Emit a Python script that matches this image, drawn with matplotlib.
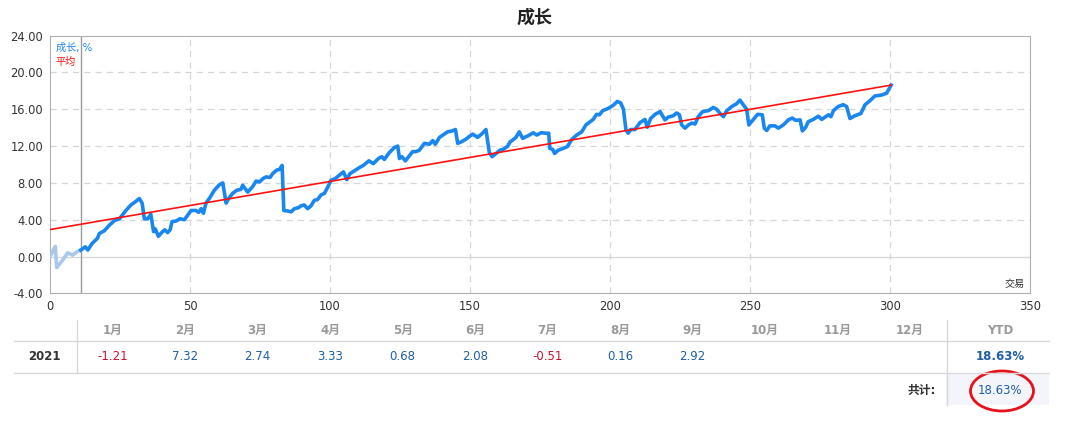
import matplotlib
matplotlib.use('Agg')
import matplotlib.pyplot as plt
from matplotlib.lines import Line2D
from matplotlib.patches import Ellipse, Rectangle

plt.rcParams['font.family'] = ['DejaVu Sans', 'Noto Sans CJK SC']

# данные: номер сделки и рост, %
trade_x = [0, 1.9, 2.4, 4.5, 6.3, 8.1, 9.5, 11,
           12.6, 13.5, 15, 17, 17.6, 19.4, 21.2, 23, 24.8, 27.1, 28.9, 30.7, 31.9, 32.9, 33.7, 34.9, 36, 37,
           37.6, 38.7, 40.2, 41, 42, 42.9, 43.6, 45, 46.4, 48, 49.2, 50.4, 52.1, 53.1, 54, 54.8, 55.7, 56.9,
           58.7, 60.5, 61.7, 62.9, 63.8, 65.2, 66.7, 68.2, 68.8, 70.6, 72.4, 73.6, 74.8, 76, 77.1, 78.6, 79.5,
           81, 81.9, 82.9, 83.5, 84.9, 86.1, 87.3, 88.7, 89.6, 90.8, 92, 93.2, 94.4, 95.6, 96.8, 98, 99.2,
           100.4, 101.8, 103.6, 104.8, 106, 107.1, 108.9, 110.7, 111.9, 113.9, 115.5, 117.3, 118.5, 119.4,
           121.2, 123, 124.2, 124.8, 125.7, 126.9, 128.1, 129.5, 130.7, 131.9, 133.7, 135.5, 136.7, 137.6,
           139.1, 140.8, 142, 143.6, 144.8, 145.6, 146.8, 148.3, 149.8, 151, 152.7, 154.3, 155.7, 156.9,
           157.9, 159.3, 160.7, 161.9, 163.5, 164.3, 165.2, 166.4, 167.6, 168.8, 170.6, 172.6, 173.8, 175.4,
           177.1, 178.1, 178.5, 179.5, 180.2, 181.5, 183.3, 184.8, 186.3, 188.1, 189.9, 191.4, 192.9, 194,
           195.2, 196.2, 197.4, 199.4, 201.2, 202.6, 203.8, 204.8, 205.7, 206.5, 207.4, 208.9, 210.7, 212.5,
           213.3, 214.5, 216.1, 217.9, 219.6, 220.8, 222.6, 223.8, 224.8, 225.6, 226.8, 228, 229.2, 230.4,
           231.5, 233.1, 235.1, 236.9, 238.1, 239.3, 240.5, 241.7, 243.5, 245.2, 246.4, 247.6, 248.8, 249.6,
           251.2, 252.7, 254.4, 255.1, 256, 257.1, 258.9, 260.1, 261.9, 263.7, 265.1, 266.3, 267.9, 268.7,
           269.9, 270.8, 272.6, 274.4, 275.6, 277, 278, 278.9, 279.8, 281.5, 283.3, 284.5, 285.7, 287.5,
           289.6, 291.1, 292.9, 294.6, 297, 298.8, 299.6, 300.4]
growth_y = [0, 1.1, -1.2, -0.4, 0.4, 0.15, 0.5, 0.7,
            1.05, 0.7, 1.4, 2.0, 2.5, 2.8, 3.4, 3.9, 4.1, 5.0, 5.6, 6.0, 6.3, 5.8, 4.1, 4.1, 4.6, 2.7,
            3.0, 2.2, 2.7, 2.9, 2.6, 2.9, 3.8, 3.85, 4.1, 4.0, 4.5, 5.0, 5.0, 4.8, 5.2, 4.7, 5.8, 6.3,
            7.2, 7.8, 8.0, 5.8, 6.3, 6.85, 7.2, 7.3, 7.75, 7.0, 7.6, 8.2, 8.1, 8.45, 8.65, 8.6, 9.0,
            9.4, 9.45, 9.9, 5.0, 4.95, 4.85, 5.2, 5.3, 5.5, 5.6, 5.2, 5.5, 6.1, 6.2, 6.7, 6.85, 7.55,
            8.3, 8.45, 8.9, 9.2, 8.35, 9.0, 9.35, 9.7, 9.9, 10.4, 10.1, 10.65, 10.85, 10.55,
            11.3, 11.85, 12.0, 10.65, 10.85, 10.4, 10.85, 11.4, 11.4, 11.55, 12.3, 12.2, 12.6, 12.2,
            12.95, 13.3, 13.55, 13.65, 13.8, 12.3, 12.45, 12.7, 13.05, 13.3, 12.95, 13.35, 13.8, 11.3,
            10.85, 11.2, 11.55, 11.65, 12.0, 12.45, 12.65, 12.95, 13.55, 12.85, 13.1, 13.45, 13.2, 13.45,
            13.4, 13.4, 11.75, 11.65, 11.2, 11.55, 11.75, 11.95, 12.7, 13.2, 13.55, 14.3, 14.65, 14.9,
            15.45, 15.4, 15.85, 16.1, 16.45, 16.85, 16.7, 16.0, 13.75, 13.4, 13.8, 13.8, 14.55, 14.9,
            14.05, 15.0, 15.45, 15.75, 14.85, 15.15, 15.3, 15.6, 15.4, 14.3, 13.95, 14.3, 14.5, 14.4,
            15.2, 15.75, 15.85, 16.2, 16.0, 15.55, 15.2, 15.85, 16.3, 16.6, 17.0, 16.5, 16.0, 14.3,
            14.9, 15.45, 15.4, 13.95, 13.7, 14.2, 14.2, 13.95, 14.3, 14.85, 15.05, 14.8, 14.85, 13.65,
            14.05, 14.65, 14.9, 15.25, 14.9, 15.2, 15.4, 15.2, 15.85, 16.3, 16.5, 16.3, 15.0, 15.3,
            15.55, 16.5, 16.95, 17.45, 17.55, 17.75, 18.2, 18.63]

# линия "平均"
avg_x = [0, 300.4]
avg_y = [2.93, 18.63]

start_trade = 11  # серая вертикальная линия

months = ['1月', '2月', '3月', '4月', '5月', '6月', '7月', '8月', '9月', '10月', '11月', '12月']
month_vals = [-1.21, 7.32, 2.74, 3.33, 0.68, 2.08, -0.51, 0.16, 2.92, None, None, None]
year = '2021'
ytd = '18.63%'
total = '18.63%'

W, H = 1070, 425
fig = plt.figure(figsize=(W / 100, H / 100), dpi=100)


def px(x, y):
    return x / W, 1 - y / H


ax = fig.add_axes([50 / W, 1 - 293.3 / H, 980 / W, 257.6 / H])

blue = '#1a86f0'
n_light = trade_x.index(start_trade) + 1
ax.plot(trade_x[:n_light], growth_y[:n_light], color='#a9c8ea', lw=2.6, solid_joinstyle='round', zorder=3)
ax.plot(trade_x[n_light - 1:], growth_y[n_light - 1:], color=blue, lw=2.6, solid_joinstyle='round', zorder=4)
ax.plot(avg_x, avg_y, color='#ff1010', lw=1.2, zorder=5)
ax.axvline(start_trade, color='#9a9a9a', lw=1, zorder=2)

ax.set_xlim(0, 350)
ax.set_ylim(-4, 24)
ax.set_xticks(range(0, 351, 50))
ax.set_yticks(range(-4, 25, 4))
ax.set_yticklabels(['%.2f' % v for v in range(-4, 25, 4)])
ax.tick_params(length=0, labelsize=8.3, labelcolor='#333333', pad=5)
for s in ax.spines.values():
    s.set_color('#b0b0b0')
for v in range(4, 24, 4):
    ax.axhline(v, color='#d6d6d6', lw=0.9, ls=(0, (5, 4)), zorder=1)
ax.axhline(0, color='#d6d6d6', lw=0.9, zorder=1)
for v in range(50, 350, 50):
    ax.axvline(v, color='#d6d6d6', lw=0.9, ls=(0, (5, 4)), zorder=1)

ax.text(0.006, 0.955, '成长, %', transform=ax.transAxes, color=blue, fontsize=7.3, va='center')
ax.text(0.006, 0.897, '平均', transform=ax.transAxes, color='#ff1010', fontsize=7.3, va='center')
ax.text(0.995, 0.035, '交易', transform=ax.transAxes, color='#333333', fontsize=7.3, ha='right', va='center')

fig.text(*px(535, 18), '成长', fontsize=13, fontweight='bold', ha='center', va='center', color='#222222')

# таблица по месяцам
line_c = '#d8d8d8'
fig.add_artist(Rectangle(px(946, 405), (1049 - 946) / W, 32 / H, transform=fig.transFigure,
                         facecolor='#f3f5fb', edgecolor='none'))
fig.add_artist(Line2D([14 / W, 1049 / W], [1 - 341 / H] * 2, color=line_c, lw=1))
fig.add_artist(Line2D([14 / W, 1049 / W], [1 - 373 / H] * 2, color=line_c, lw=1))
fig.add_artist(Line2D([76.5 / W] * 2, [1 - 320 / H, 1 - 373 / H], color=line_c, lw=1))
fig.add_artist(Line2D([946.5 / W] * 2, [1 - 320 / H, 1 - 405 / H], color=line_c, lw=1))

for i, m in enumerate(months):
    x = 112.6 + i * 72.5
    fig.text(*px(x, 330.5), m, fontsize=8.5, ha='center', va='center', color='#9a9a9a', fontweight='bold')
    v = month_vals[i]
    if v is not None:
        c = '#c8102e' if v < 0 else '#1f5fa8'
        fig.text(*px(x, 357), '%.2f' % v, fontsize=8.5, ha='center', va='center', color=c)
fig.text(*px(1000, 330.5), 'YTD', fontsize=8.5, ha='center', va='center', color='#9a9a9a', fontweight='bold')
fig.text(*px(44, 357), year, fontsize=8.5, ha='center', va='center', color='#333333', fontweight='bold')
fig.text(*px(1000, 357), ytd, fontsize=8.5, ha='center', va='center', color='#1f5fa8', fontweight='bold')
fig.text(*px(936, 390), '共计:', fontsize=8.5, ha='right', va='center', color='#333333', fontweight='bold')
fig.text(*px(1000, 390), total, fontsize=8.5, ha='center', va='center', color='#1f5fa8')

fig.add_artist(Ellipse(px(1002, 391), 63 / W, 40 / H, transform=fig.transFigure,
                       facecolor='none', edgecolor='#e8101a', lw=2))

fig.savefig('out.png', dpi=100)
